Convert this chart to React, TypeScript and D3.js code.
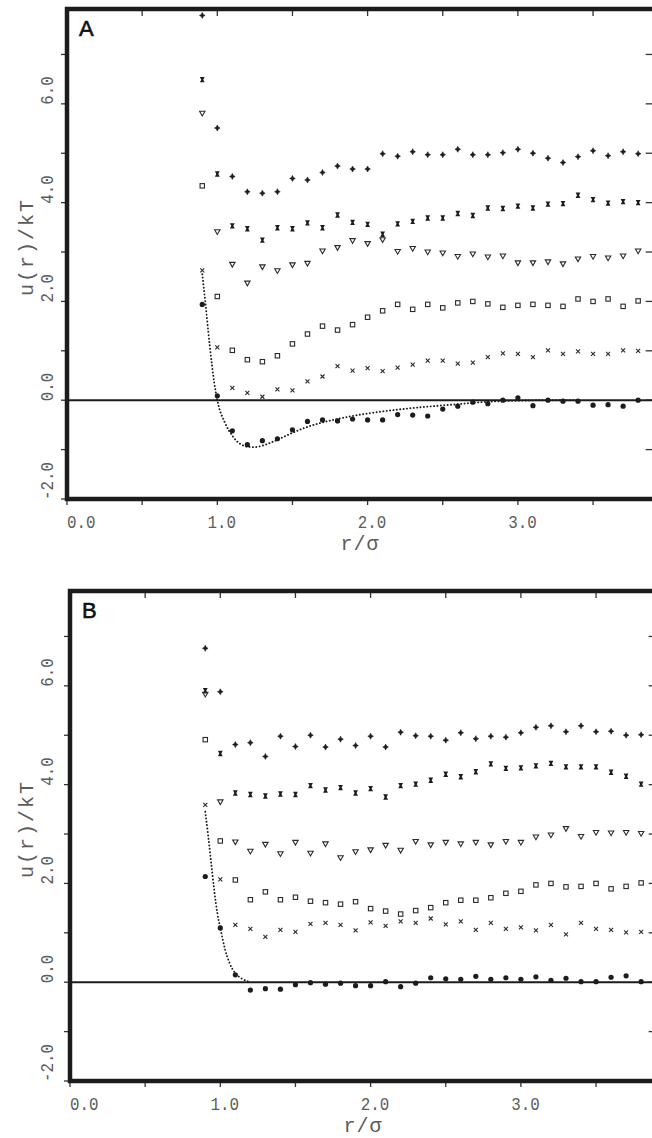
import React from "react";
import { scaleLinear, line, curveMonotoneX } from "d3";

// r/sigma positions of the simulation points
const R = [0.9, 1.0, 1.1, 1.2, 1.3, 1.4, 1.5, 1.6, 1.7, 1.8, 1.9, 2.0, 2.1, 2.2, 2.3, 2.4, 2.5, 2.6, 2.7, 2.8, 2.9, 3.0, 3.1, 3.2, 3.3, 3.4, 3.5, 3.6, 3.7, 3.8];

// panel A, each curve shifted by 1 kT
const A_DIAMOND = [7.79, 5.51, 4.53, 4.22, 4.19, 4.22, 4.49, 4.46, 4.61, 4.74, 4.68, 4.68, 4.99, 4.94, 5.03, 4.97, 4.97, 5.08, 4.97, 4.97, 5.01, 5.08, 5.0, 4.9, 4.81, 4.93, 5.05, 4.95, 5.03, 4.99];
const A_HOURGLASS = [6.49, 4.58, 3.53, 3.47, 3.24, 3.49, 3.47, 3.59, 3.49, 3.75, 3.6, 3.56, 3.36, 3.57, 3.62, 3.69, 3.69, 3.78, 3.74, 3.89, 3.88, 3.93, 3.89, 3.97, 3.98, 4.15, 4.06, 3.99, 4.02, 4.0];
const A_TRIANGLE = [5.81, 3.41, 2.75, 2.37, 2.7, 2.62, 2.74, 2.77, 3.02, 3.09, 3.23, 3.17, 3.25, 3.01, 3.07, 3.0, 2.98, 2.91, 2.96, 2.9, 2.92, 2.78, 2.78, 2.8, 2.76, 2.86, 2.91, 2.88, 2.92, 3.02];
const A_SQUARE = [4.34, 2.1, 1.01, 0.82, 0.78, 0.9, 1.14, 1.34, 1.5, 1.42, 1.53, 1.68, 1.81, 1.94, 1.84, 1.94, 1.87, 1.97, 2.0, 1.95, 1.88, 1.92, 1.94, 1.92, 1.9, 2.05, 2.0, 2.05, 1.9, 2.01];
const A_CROSS = [2.63, 1.07, 0.25, 0.15, 0.07, 0.22, 0.2, 0.38, 0.48, 0.69, 0.6, 0.65, 0.59, 0.66, 0.72, 0.8, 0.8, 0.74, 0.76, 0.87, 0.95, 0.94, 0.87, 1.01, 0.94, 0.99, 0.94, 0.94, 1.01, 1.0];
const A_CIRCLE = [1.94, 0.09, -0.62, -0.9, -0.82, -0.78, -0.6, -0.43, -0.4, -0.42, -0.38, -0.4, -0.4, -0.29, -0.3, -0.32, -0.18, -0.12, -0.04, -0.07, 0.0, 0.05, -0.11, 0.0, -0.02, -0.02, -0.1, -0.09, -0.12, 0.0];
const A_THEORY_R = [0.9, 0.92, 0.95, 0.98, 1.0, 1.05, 1.1, 1.15, 1.2, 1.25, 1.3, 1.4, 1.5, 1.6, 1.7, 1.8, 1.9, 2.0, 2.2, 2.4, 2.6, 2.8, 3.0, 3.2, 3.4];
const A_THEORY_U = [2.55, 2.0, 1.1, 0.35, 0.0, -0.45, -0.72, -0.88, -0.94, -0.95, -0.92, -0.8, -0.66, -0.54, -0.45, -0.38, -0.32, -0.27, -0.19, -0.13, -0.08, -0.03, -0.01, 0.0, 0.0];

// panel B
const B_DIAMOND = [6.76, 5.88, 4.81, 4.85, 4.57, 4.98, 4.77, 5.0, 4.76, 4.92, 4.79, 4.98, 4.76, 5.06, 4.99, 4.98, 4.9, 5.05, 4.93, 4.98, 4.96, 5.05, 5.16, 5.19, 5.07, 5.19, 5.07, 5.08, 5.0, 5.01];
const B_HOURGLASS = [5.9, 4.63, 3.83, 3.8, 3.77, 3.81, 3.8, 3.98, 3.89, 3.94, 3.83, 3.92, 3.75, 3.98, 4.01, 4.09, 4.21, 4.16, 4.26, 4.42, 4.33, 4.34, 4.38, 4.43, 4.36, 4.36, 4.36, 4.25, 4.17, 4.01];
const B_TRIANGLE = [5.83, 3.65, 2.84, 2.65, 2.79, 2.6, 2.83, 2.61, 2.8, 2.52, 2.64, 2.68, 2.77, 2.67, 2.85, 2.78, 2.83, 2.8, 2.83, 2.78, 2.85, 2.83, 2.94, 2.98, 3.11, 2.95, 3.03, 3.02, 3.03, 3.01];
const B_SQUARE = [4.91, 2.86, 2.07, 1.67, 1.83, 1.67, 1.72, 1.64, 1.61, 1.58, 1.63, 1.49, 1.44, 1.38, 1.45, 1.51, 1.61, 1.66, 1.66, 1.71, 1.8, 1.84, 1.97, 2.0, 1.93, 1.94, 2.0, 1.89, 1.94, 2.01];
const B_CROSS = [3.59, 2.08, 1.16, 1.08, 0.92, 1.06, 1.02, 1.18, 1.2, 1.16, 1.05, 1.21, 1.14, 1.23, 1.2, 1.29, 1.17, 1.23, 1.06, 1.2, 1.08, 1.11, 1.05, 1.16, 0.97, 1.2, 1.08, 1.06, 1.01, 1.02];
const B_CIRCLE = [2.14, 1.1, 0.15, -0.16, -0.13, -0.14, -0.05, -0.01, -0.04, -0.02, -0.07, -0.07, 0.01, -0.09, -0.02, 0.09, 0.07, 0.06, 0.12, 0.06, 0.09, 0.06, 0.11, 0.04, 0.08, 0.01, 0.01, 0.1, 0.13, 0.01];
const B_THEORY_R = [0.9, 0.92, 0.94, 0.96, 0.98, 1.0, 1.03, 1.06, 1.1, 1.14, 1.18, 1.2];
const B_THEORY_U = [3.45, 2.95, 2.4, 1.85, 1.4, 1.1, 0.68, 0.4, 0.18, 0.08, 0.02, 0.0];

const X_MAJOR = [0, 1, 2, 3];
const X_LABELS = ["0.0", "1.0", "2.0", "3.0"];
const X_MINOR = [0, 0.5, 1, 1.5, 2, 2.5, 3, 3.5];
const Y_MAJOR = [-2, 0, 2, 4, 6];
const Y_LABELS = ["-2.0", "0.0", "2.0", "4.0", "6.0"];
const Y_MINOR = [-2, -1, 0, 1, 2, 3, 4, 5, 6, 7];
const Y_RIGHT = [-1, 0, 1, 2, 3, 4, 5, 6, 7];

const R_MAX = 3.93;
const U_MAX = 7.92;
const INK = "#1c1c1c";
const TEXT = "#5c5c5c";

function Marker({ kind, x, y }) {
  const t = `translate(${x},${y})`;
  if (kind === "diamond")
    return <path transform={t} d="M0,-3 L1,-1 L2.8,0 L1,1 L0,3 L-1,1 L-2.8,0 L-1,-1 Z" fill={INK} stroke={INK} strokeWidth={0.6} />;
  if (kind === "hourglass")
    return <path transform={t} d="M-2.4,-2.7 H2.4 L1,0 L2.4,2.7 H-2.4 L-1,0 Z" fill={INK} />;
  if (kind === "triangle")
    return <path transform={t} d="M-2.7,-2 H2.7 L0,2.7 Z" fill="none" stroke="#2a2a2a" strokeWidth={1.1} />;
  if (kind === "square")
    return <rect x={x - 2.2} y={y - 2.2} width={4.4} height={4.4} fill="none" stroke="#2a2a2a" strokeWidth={1.1} />;
  if (kind === "cross")
    return <path transform={t} d="M-2,-2 L2,2 M-2,2 L2,-2" stroke="#2a2a2a" strokeWidth={1.1} />;
  return <circle cx={x} cy={y} r={2.6} fill={INK} />;
}

function Panel({ left, top, bottom, letter, series, theoryR, theoryU }) {
  const x = scaleLinear().domain([0, R_MAX]).range([left, left + R_MAX * 150.3]);
  const y = scaleLinear().domain([-2, U_MAX]).range([bottom, top]);
  const right = x(R_MAX);
  const theory = line()
    .x((d) => x(d[0]))
    .y((d) => y(d[1]))
    .curve(curveMonotoneX)(theoryR.map((r, i) => [r, theoryU[i]]));
  const mono = "'Liberation Mono', 'DejaVu Sans Mono', monospace";

  return (
    <g>
      {/* outward ticks, left and bottom */}
      {Y_MINOR.map((v) => (
        <line key={"yl" + v} x1={left - 6} x2={left} y1={y(v)} y2={y(v)} stroke="#333" strokeWidth={1.3} />
      ))}
      {X_MINOR.map((v) => (
        <line key={"xb" + v} x1={x(v)} x2={x(v)} y1={bottom} y2={bottom + 6} stroke="#333" strokeWidth={1.3} />
      ))}
      {/* inward ticks, top and right */}
      {X_MINOR.filter((v) => v > 0).map((v) => (
        <line key={"xt" + v} x1={x(v)} x2={x(v)} y1={top} y2={top + 7} stroke="#333" strokeWidth={1.3} />
      ))}
      {Y_RIGHT.map((v) => (
        <line key={"yr" + v} x1={right - 12} x2={right} y1={y(v)} y2={y(v)} stroke="#333" strokeWidth={1.3} />
      ))}

      <line x1={left} x2={right} y1={y(0)} y2={y(0)} stroke={INK} strokeWidth={2} />
      <rect x={left} y={top} width={right - left} height={bottom - top} fill="none" stroke={INK} strokeWidth={4.5} />

      <path d={theory} fill="none" stroke={INK} strokeWidth={1.9} strokeDasharray="0.1 3.3" strokeLinecap="round" />

      {series.map((s) =>
        s.values.map((u, i) => <Marker key={s.kind + i} kind={s.kind} x={x(R[i])} y={y(u)} />)
      )}

      <text x={left + 12} y={top + 27} fontFamily="'Liberation Sans', Arial, sans-serif" fontSize={22} fill="#111" stroke="#111" strokeWidth={0.6}>
        {letter}
      </text>

      {X_MAJOR.map((v, i) => (
        <text
          key={"xlab" + v}
          transform={`translate(${i === 0 ? x(v) : x(v) + 4.5},${bottom + 29}) scale(0.88,1)`}
          textAnchor={i === 0 ? "start" : "middle"}
          fontFamily={mono}
          fontSize={18}
          fill={TEXT}
        >
          {X_LABELS[i]}
        </text>
      ))}
      <text x={x(1.95)} y={bottom + 51} textAnchor="middle" fontFamily={mono} fontSize={20} letterSpacing={1} fill={TEXT}>
        r/σ
      </text>

      {Y_MAJOR.map((v, i) => (
        <text
          key={"ylab" + v}
          transform={`translate(53,${y(v) + 1}) rotate(-90) scale(0.88,1)`}
          textAnchor="start"
          fontFamily={mono}
          fontSize={18}
          fill={TEXT}
        >
          {Y_LABELS[i]}
        </text>
      ))}
      <text
        transform={`translate(33,${y(3.1)}) rotate(-90)`}
        textAnchor="middle"
        fontFamily={mono}
        fontSize={20}
        letterSpacing={2}
        fill={TEXT}
      >
        u(r)/kT
      </text>
    </g>
  );
}

export default function App() {
  const seriesA = [
    { kind: "diamond", values: A_DIAMOND },
    { kind: "hourglass", values: A_HOURGLASS },
    { kind: "triangle", values: A_TRIANGLE },
    { kind: "square", values: A_SQUARE },
    { kind: "cross", values: A_CROSS },
    { kind: "circle", values: A_CIRCLE },
  ];
  const seriesB = [
    { kind: "diamond", values: B_DIAMOND },
    { kind: "hourglass", values: B_HOURGLASS },
    { kind: "triangle", values: B_TRIANGLE },
    { kind: "square", values: B_SQUARE },
    { kind: "cross", values: B_CROSS },
    { kind: "circle", values: B_CIRCLE },
  ];
  return (
    <svg width={652} height={1138} style={{ position: "absolute", left: 0, top: 0, background: "#fff" }}>
      <rect width={652} height={1138} fill="#fff" />
      <Panel left={67} top={9} bottom={499} letter="A" series={seriesA} theoryR={A_THEORY_R} theoryU={A_THEORY_U} />
      <Panel left={70} top={591} bottom={1081} letter="B" series={seriesB} theoryR={B_THEORY_R} theoryU={B_THEORY_U} />
    </svg>
  );
}
